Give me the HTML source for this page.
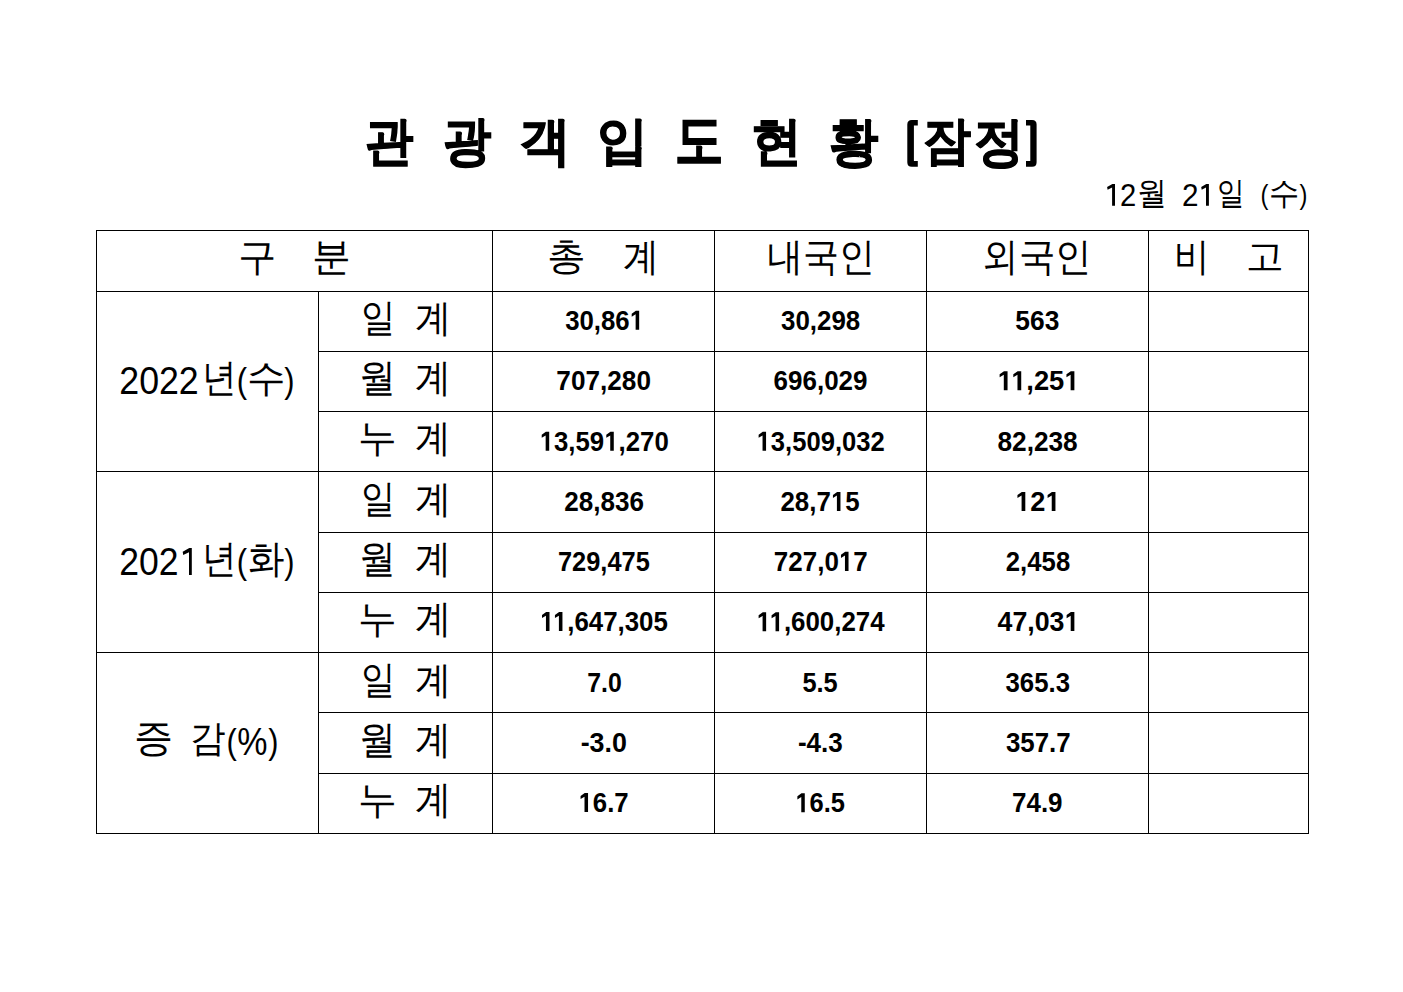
<!DOCTYPE html><html lang="ko"><head><meta charset="utf-8"><title>관광객 입도 현황</title><style>
html,body{margin:0;padding:0;background:#fff}body{position:relative;font-family:"Liberation Sans",sans-serif;color:#000}.t{position:absolute;left:0;top:0;font-size:100px;line-height:100px;white-space:pre;transform-origin:0 0}.b{font-weight:bold}.o{color:transparent}.s{position:absolute;left:0;top:0;overflow:visible}.h{position:absolute;background:#000;height:1px}.v{position:absolute;background:#000;width:1px}html,body{width:1403px;height:992px;overflow:hidden}
</style></head><body>
<div class="h" style="left:96px;top:230px;width:1213px"></div>
<div class="h" style="left:96px;top:291px;width:1213px"></div>
<div class="h" style="left:318px;top:351px;width:991px"></div>
<div class="h" style="left:318px;top:411px;width:991px"></div>
<div class="h" style="left:96px;top:471px;width:1213px"></div>
<div class="h" style="left:318px;top:532px;width:991px"></div>
<div class="h" style="left:318px;top:592px;width:991px"></div>
<div class="h" style="left:96px;top:652px;width:1213px"></div>
<div class="h" style="left:318px;top:712px;width:991px"></div>
<div class="h" style="left:318px;top:773px;width:991px"></div>
<div class="h" style="left:96px;top:833px;width:1213px"></div>
<div class="v" style="left:96px;top:230px;height:604px"></div>
<div class="v" style="left:318px;top:291px;height:543px"></div>
<div class="v" style="left:492px;top:230px;height:604px"></div>
<div class="v" style="left:714px;top:230px;height:604px"></div>
<div class="v" style="left:926px;top:230px;height:604px"></div>
<div class="v" style="left:1148px;top:230px;height:604px"></div>
<div class="v" style="left:1308px;top:230px;height:604px"></div>
<svg style="position:absolute;left:0;top:0" width="1403" height="992" viewBox="0 0 1403 992"><path fill="#000" d="M917.8 119.9 L911.8 119.9 Q907.3 119.9 907.3 124.4 L907.3 162.2 Q907.3 166.75 911.8 166.75 L917.8 166.75 L917.8 161 L913.9 161 L913.9 125.6 L917.8 125.6 Z"/><path fill="#000" d="M1026 119.9 L1032.1 119.9 Q1036.6 119.9 1036.6 124.4 L1036.6 162.2 Q1036.6 166.75 1032.1 166.75 L1026 166.75 L1026 161 L1030.3 161 L1030.3 125.6 L1026 125.6 Z"/><path fill="#000" d="M1115.00 183.90 L1115.00 205.85 L1112.10 205.85 L1112.10 187.50 L1107.60 189.70 L1107.10 187.00 L1112.40 183.90 Z"/><path fill="#000" d="M1208.90 183.90 L1208.90 205.85 L1206.00 205.85 L1206.00 187.56 L1201.70 189.80 L1201.20 187.00 L1206.30 183.90 Z"/><path fill="#000" d="M191.80 548.06 L191.80 574.90 L189.00 574.90 L189.00 552.30 L183.20 554.90 L182.70 551.70 L189.30 548.06 Z"/></svg>
<div class="t b" style="transform:matrix(0.48106,0.0001,0,0.51887,365.112,115.100);-webkit-text-stroke:2.079px #000">관</div>
<div class="t b" style="transform:matrix(0.48204,0.0001,0,0.53013,442.979,114.304);-webkit-text-stroke:2.074px #000">광</div>
<div class="t b" style="transform:matrix(0.51422,0.0001,0,0.51714,519.398,114.904);-webkit-text-stroke:1.945px #000">객</div>
<div class="t b" style="transform:matrix(0.51013,0.0001,0,0.50775,596.890,114.602);-webkit-text-stroke:1.960px #000">입</div>
<div class="t b" style="transform:matrix(0.48410,0.0001,0,0.59203,674.680,109.903);-webkit-text-stroke:2.066px #000">도</div>
<div class="t b" style="transform:matrix(0.51502,0.0001,0,0.52451,751.471,114.210);-webkit-text-stroke:1.942px #000">현</div>
<div class="t b" style="transform:matrix(0.49273,0.0001,0,0.53013,829.281,115.104);-webkit-text-stroke:2.029px #000">황</div>
<div class="t b" style="transform:matrix(0.48367,0.0001,0,0.51423,922.741,114.540);-webkit-text-stroke:2.068px #000">잠</div>
<div class="t b" style="transform:matrix(0.50326,0.0001,0,0.53188,974.044,114.642);-webkit-text-stroke:1.987px #000">정</div>
<div class="t" style="transform:matrix(0.29167,0.0001,0,0.31251,1120.059,179.382)">2</div>
<div class="t" style="transform:matrix(0.29508,0.0001,0,0.31530,1137.306,177.021)">월</div>
<div class="t" style="transform:matrix(0.29642,0.0001,0,0.31350,1181.959,179.599)">2</div>
<div class="t" style="transform:matrix(0.27519,0.0001,0,0.31791,1217.351,176.964)">일</div>
<div class="t" style="transform:matrix(0.23706,0.0001,0,0.26914,1260.474,181.090)">(</div>
<div class="t" style="transform:matrix(0.30152,0.0001,0,0.31954,1268.887,177.031)">수</div>
<div class="t" style="transform:matrix(0.23684,0.0001,0,0.26925,1299.423,180.857)">)</div>
<div class="t" style="transform:matrix(0.38769,0.0001,0,0.38289,237.570,237.400)">구</div>
<div class="t" style="transform:matrix(0.38857,0.0001,0,0.39030,312.054,236.707)">분</div>
<div class="t" style="transform:matrix(0.38412,0.0001,0,0.37700,547.111,237.421)">총</div>
<div class="t" style="transform:matrix(0.35801,0.0001,0,0.38795,623.360,237.162)">계</div>
<div class="t" style="transform:matrix(0.35896,0.0001,0,0.38956,766.863,236.428)">내국인</div>
<div class="t" style="transform:matrix(0.36420,0.0001,0,0.38940,982.236,236.416)">외국인</div>
<div class="t" style="transform:matrix(0.35235,0.0001,0,0.38802,1173.627,237.158)">비</div>
<div class="t" style="transform:matrix(0.37310,0.0001,0,0.36599,1246.124,238.229)">고</div>
<div class="t" style="transform:matrix(0.34725,0.0001,0,0.39316,361.192,297.738)">일</div>
<div class="t" style="transform:matrix(0.36257,0.0001,0,0.38006,414.608,298.725)">계</div>
<div class="t" style="transform:matrix(0.36773,0.0001,0,0.38885,359.315,358.368)">월</div>
<div class="t" style="transform:matrix(0.35658,0.0001,0,0.38579,414.935,358.353)">계</div>
<div class="t" style="transform:matrix(0.38587,0.0001,0,0.37856,358.147,419.185)">누</div>
<div class="t" style="transform:matrix(0.35860,0.0001,0,0.38129,414.778,418.623)">계</div>
<div class="t" style="transform:matrix(0.34489,0.0001,0,0.39120,361.156,479.101)">일</div>
<div class="t" style="transform:matrix(0.36257,0.0001,0,0.38006,414.608,480.030)">계</div>
<div class="t" style="transform:matrix(0.36773,0.0001,0,0.38885,359.315,538.772)">월</div>
<div class="t" style="transform:matrix(0.35658,0.0001,0,0.38579,414.935,539.059)">계</div>
<div class="t" style="transform:matrix(0.38587,0.0001,0,0.37856,358.147,599.887)">누</div>
<div class="t" style="transform:matrix(0.35893,0.0001,0,0.38654,414.962,599.161)">계</div>
<div class="t" style="transform:matrix(0.34863,0.0001,0,0.39471,361.039,659.848)">일</div>
<div class="t" style="transform:matrix(0.36257,0.0001,0,0.38006,414.608,660.334)">계</div>
<div class="t" style="transform:matrix(0.36773,0.0001,0,0.38885,359.315,720.174)">월</div>
<div class="t" style="transform:matrix(0.35658,0.0001,0,0.38579,414.935,719.764)">계</div>
<div class="t" style="transform:matrix(0.38506,0.0001,0,0.37713,358.214,780.968)">누</div>
<div class="t" style="transform:matrix(0.35893,0.0001,0,0.38654,414.962,780.558)">계</div>
<div class="t" style="transform:matrix(0.35694,0.0001,0,0.39297,119.319,360.794)">2022</div>
<div class="t" style="transform:matrix(0.35515,0.0001,0,0.39017,119.272,542.030)">202</div>
<div class="t" style="transform:matrix(0.34618,0.0001,0,0.38933,201.862,357.782)">년</div>
<div class="t" style="transform:matrix(0.30937,0.0001,0,0.34410,236.811,363.359)">(</div>
<div class="t" style="transform:matrix(0.30804,0.0001,0,0.35921,284.288,362.100)">)</div>
<div class="t" style="transform:matrix(0.34618,0.0001,0,0.38933,201.862,538.782)">년</div>
<div class="t" style="transform:matrix(0.30937,0.0001,0,0.34410,236.811,544.359)">(</div>
<div class="t" style="transform:matrix(0.30804,0.0001,0,0.35921,284.288,543.100)">)</div>
<div class="t" style="transform:matrix(0.38664,0.0001,0,0.38201,246.920,358.845)">수</div>
<div class="t" style="transform:matrix(0.36728,0.0001,0,0.39275,247.926,538.937)">화</div>
<div class="t" style="transform:matrix(0.38763,0.0001,0,0.38652,134.452,718.483)">증</div>
<div class="t" style="transform:matrix(0.35670,0.0001,0,0.37139,189.954,719.674)">감</div>
<div class="t" style="transform:matrix(0.30878,0.0001,0,0.34394,226.412,725.056)">(</div>
<div class="t" style="transform:matrix(0.33945,0.0001,0,0.39277,237.168,721.608)">%</div>
<div class="t" style="transform:matrix(0.30593,0.0001,0,0.34826,268.177,724.612)">)</div>
<div class="t b" style="transform:matrix(0.25757,0.0001,0,0.28378,565.169,305.585)">30,86<span class="o">1</span><svg class="s" width="1" height="1"><path transform="matrix(0.048828,0,0,-0.048828,250.234,85)" d="M478 0 L759 0 L759 1375 L493 1375 L165 1160 L165 935 L478 1110 Z"/></svg></div>
<div class="t b" style="transform:matrix(0.25850,0.0001,0,0.28376,781.082,305.883)">30,298</div>
<div class="t b" style="transform:matrix(0.26413,0.0001,0,0.28329,1015.270,306.000)">563</div>
<div class="t b" style="transform:matrix(0.26164,0.0001,0,0.28345,556.354,366.104)">707,280</div>
<div class="t b" style="transform:matrix(0.25998,0.0001,0,0.28333,773.565,365.710)">696,029</div>
<div class="t b" style="transform:matrix(0.27308,0.0001,0,0.28423,997.427,366.066)"><span class="o">1</span><span class="o">1</span>,25<span class="o">1</span><svg class="s" width="1" height="1"><path transform="matrix(0.048828,0,0,-0.048828,0.000,85)" d="M478 0 L759 0 L759 1375 L493 1375 L165 1160 L165 935 L478 1110 Z"/><path transform="matrix(0.048828,0,0,-0.048828,50.094,85)" d="M478 0 L759 0 L759 1375 L493 1375 L165 1160 L165 935 L478 1110 Z"/><path transform="matrix(0.048828,0,0,-0.048828,244.719,85)" d="M478 0 L759 0 L759 1375 L493 1375 L165 1160 L165 935 L478 1110 Z"/></svg></div>
<div class="t b" style="transform:matrix(0.25807,0.0001,0,0.28417,539.638,426.649)"><span class="o">1</span>3,59<span class="o">1</span>,270<svg class="s" width="1" height="1"><path transform="matrix(0.048828,0,0,-0.048828,0.000,85)" d="M478 0 L759 0 L759 1375 L493 1375 L165 1160 L165 935 L478 1110 Z"/><path transform="matrix(0.048828,0,0,-0.048828,250.234,85)" d="M478 0 L759 0 L759 1375 L493 1375 L165 1160 L165 935 L478 1110 Z"/></svg></div>
<div class="t b" style="transform:matrix(0.25616,0.0001,0,0.28366,756.563,426.666)"><span class="o">1</span>3,509,032<svg class="s" width="1" height="1"><path transform="matrix(0.048828,0,0,-0.048828,0.000,85)" d="M478 0 L759 0 L759 1375 L493 1375 L165 1160 L165 935 L478 1110 Z"/></svg></div>
<div class="t b" style="transform:matrix(0.26224,0.0001,0,0.28354,997.471,426.682)">82,238</div>
<div class="t b" style="transform:matrix(0.26064,0.0001,0,0.28321,564.210,486.876)">28,836</div>
<div class="t b" style="transform:matrix(0.25908,0.0001,0,0.28317,780.437,486.879)">28,7<span class="o">1</span>5<svg class="s" width="1" height="1"><path transform="matrix(0.048828,0,0,-0.048828,194.625,85)" d="M478 0 L759 0 L759 1375 L493 1375 L165 1160 L165 935 L478 1110 Z"/></svg></div>
<div class="t b" style="transform:matrix(0.27104,0.0001,0,0.28362,1015.261,486.861)"><span class="o">1</span>2<span class="o">1</span><svg class="s" width="1" height="1"><path transform="matrix(0.048828,0,0,-0.048828,0.000,85)" d="M478 0 L759 0 L759 1375 L493 1375 L165 1160 L165 935 L478 1110 Z"/><path transform="matrix(0.048828,0,0,-0.048828,111.219,85)" d="M478 0 L759 0 L759 1375 L493 1375 L165 1160 L165 935 L478 1110 Z"/></svg></div>
<div class="t b" style="transform:matrix(0.25417,0.0001,0,0.28393,557.919,546.825)">729,475</div>
<div class="t b" style="transform:matrix(0.26009,0.0001,0,0.28376,773.802,546.736)">727,0<span class="o">1</span>7<svg class="s" width="1" height="1"><path transform="matrix(0.048828,0,0,-0.048828,250.234,85)" d="M478 0 L759 0 L759 1375 L493 1375 L165 1160 L165 935 L478 1110 Z"/></svg></div>
<div class="t b" style="transform:matrix(0.25731,0.0001,0,0.28386,1005.801,547.032)">2,458</div>
<div class="t b" style="transform:matrix(0.25848,0.0001,0,0.28420,539.918,606.936)"><span class="o">1</span><span class="o">1</span>,647,305<svg class="s" width="1" height="1"><path transform="matrix(0.048828,0,0,-0.048828,0.000,85)" d="M478 0 L759 0 L759 1375 L493 1375 L165 1160 L165 935 L478 1110 Z"/><path transform="matrix(0.048828,0,0,-0.048828,50.094,85)" d="M478 0 L759 0 L759 1375 L493 1375 L165 1160 L165 935 L478 1110 Z"/></svg></div>
<div class="t b" style="transform:matrix(0.25875,0.0001,0,0.28366,756.542,607.143)"><span class="o">1</span><span class="o">1</span>,600,274<svg class="s" width="1" height="1"><path transform="matrix(0.048828,0,0,-0.048828,0.000,85)" d="M478 0 L759 0 L759 1375 L493 1375 L165 1160 L165 935 L478 1110 Z"/><path transform="matrix(0.048828,0,0,-0.048828,50.094,85)" d="M478 0 L759 0 L759 1375 L493 1375 L165 1160 L165 935 L478 1110 Z"/></svg></div>
<div class="t b" style="transform:matrix(0.26745,0.0001,0,0.28404,997.537,606.939)">47,03<span class="o">1</span><svg class="s" width="1" height="1"><path transform="matrix(0.048828,0,0,-0.048828,250.234,85)" d="M478 0 L759 0 L759 1375 L493 1375 L165 1160 L165 935 L478 1110 Z"/></svg></div>
<div class="t b" style="transform:matrix(0.24791,0.0001,0,0.28420,587.244,667.418)">7.0</div>
<div class="t b" style="transform:matrix(0.25391,0.0001,0,0.28323,802.402,667.450)">5.5</div>
<div class="t b" style="transform:matrix(0.25806,0.0001,0,0.28317,1005.492,667.653)">365.3</div>
<div class="t b" style="transform:matrix(0.26859,0.0001,0,0.28321,580.651,728.329)">-3.0</div>
<div class="t b" style="transform:matrix(0.26047,0.0001,0,0.28381,797.931,728.306)">-4.3</div>
<div class="t b" style="transform:matrix(0.25833,0.0001,0,0.28348,1005.969,728.307)">357.7</div>
<div class="t b" style="transform:matrix(0.25757,0.0001,0,0.28345,578.495,787.938)"><span class="o">1</span>6.7<svg class="s" width="1" height="1"><path transform="matrix(0.048828,0,0,-0.048828,0.000,85)" d="M478 0 L759 0 L759 1375 L493 1375 L165 1160 L165 935 L478 1110 Z"/></svg></div>
<div class="t b" style="transform:matrix(0.25503,0.0001,0,0.28344,795.325,788.233)"><span class="o">1</span>6.5<svg class="s" width="1" height="1"><path transform="matrix(0.048828,0,0,-0.048828,0.000,85)" d="M478 0 L759 0 L759 1375 L493 1375 L165 1160 L165 935 L478 1110 Z"/></svg></div>
<div class="t b" style="transform:matrix(0.25937,0.0001,0,0.28339,1012.061,788.335)">74.9</div>
</body></html>
